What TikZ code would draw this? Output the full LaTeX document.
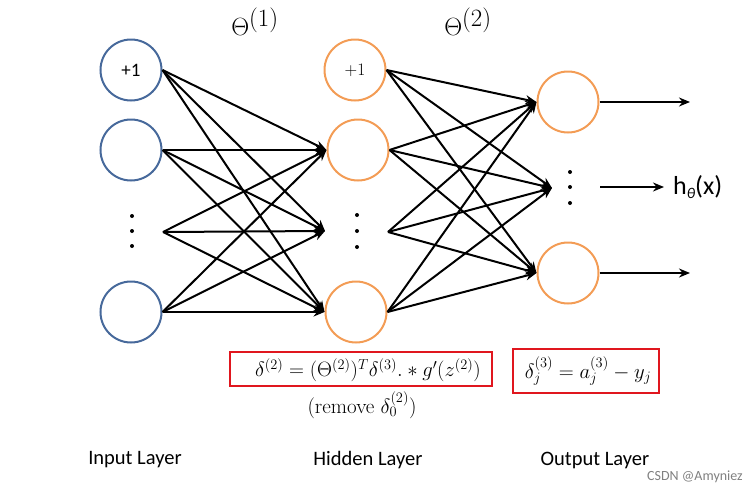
\documentclass[tikz,border=0pt]{standalone}
\usepackage{fontspec}
\newfontfamily\calfont{Carlito}
\usetikzlibrary{arrows.meta}
\definecolor{inblue}{HTML}{47699B}
\definecolor{orng}{HTML}{F39C55}
\definecolor{boxred}{HTML}{E0161E}
\begin{document}
\begin{tikzpicture}[x=1pt,y=-1pt,
  neuronin/.style={circle,draw=inblue,line width=2pt,minimum size=61pt,inner sep=0pt},
  neuronout/.style={circle,draw=orng,line width=2pt,minimum size=61pt,inner sep=0pt},
  conn/.style={line width=2pt,-{Stealth[length=11pt,width=9pt]}},
  redbox/.style={draw=boxred,line width=2.8pt,inner sep=0pt},
  layerlab/.style={font=\calfont\fontsize{20.5}{20}\selectfont},
  fml/.style={font=\fontsize{20.5}{20}\selectfont}]
\useasboundingbox (0,0) rectangle (756,493);
% input layer
\node[neuronin,font=\calfont\fontsize{19}{19}\selectfont] (i0) at (131,70) {+1};
\node[neuronin] (i1) at (131,150) {};
\node[neuronin] (i3) at (131,312) {};
\foreach \yy in {216,231,246} \fill (132,\yy) circle (2pt);
\coordinate (idot) at (163,232);
% hidden layer
\node[neuronout,font=\fontsize{17.5}{17.5}\selectfont] (h0) at (355,70) {+1};
\node[neuronout] (h1) at (358,150) {};
\node[neuronout] (h3) at (356,312) {};
\foreach \yy in {215,231,247} \fill (357,\yy) circle (2pt);
\coordinate (hdotin) at (325,231);
\coordinate (hdotout) at (388,232);
% output layer
\node[neuronout] (o1) at (568,102) {};
\node[neuronout] (o3) at (568,273) {};
\foreach \yy in {172,187,203} \fill (570,\yy) circle (2pt);
\coordinate (odot) at (552,188);
\coordinate (odotout) at (600,187);
% connections
\foreach \s in {i0.east,i1.east,idot,i3.east}
  \foreach \t in {h1.west,hdotin,h3.west}
    \draw[conn] (\s) -- (\t);
\foreach \s in {h0.east,h1.east,hdotout,h3.east}
  \foreach \t in {o1.west,odot,o3.west}
    \draw[conn] (\s) -- (\t);
% outputs
\coordinate (y1) at (690,102);
\coordinate (y3) at (690,273);
\node[font=\calfont\fontsize{26}{26}\selectfont,inner sep=0pt,anchor=west] (hx) at (673,187) {h\raisebox{-0.35ex}{\fontsize{15}{15}\selectfont\itshape θ}(x)};
\draw[conn] (o1.east) -- (y1);
\draw[conn] (odotout) -- ([xshift=-9pt]hx.west);
\draw[conn] (o3.east) -- (y3);
% theta labels
\node[font=\fontsize{36}{36}\selectfont] (t1) at (255,22) {$\Theta^{(1)}$};
\node[font=\fontsize{36}{36}\selectfont] (t2) at (468,22) {$\Theta^{(2)}$};
% formulas
\node[redbox,minimum width=262pt,minimum height=34pt] (f1) at (361,369) {};
\node[fml] (f1t) at (368,370) {$\delta^{(2)} = (\Theta^{(2)})^T\delta^{(3)} .* g'(z^{(2)})$};
\node[redbox,minimum width=146pt,minimum height=44pt] (f2) at (586,371) {};
\node[fml,font=\fontsize{22}{22}\selectfont] (f2t) at (588,371) {$\delta_j^{(3)} = a_j^{(3)} - y_j$};
\node[font=\fontsize{21}{21}\selectfont] (rm) at (362,405) {(remove $\delta_0^{(2)}$)};
% layer labels
\node[layerlab] (l1) at (135,460) {Input Layer};
\node[layerlab] (l2) at (368,460) {Hidden Layer};
\node[layerlab] (l3) at (595,460) {Output Layer};
\node[font=\calfont\fontsize{14}{14}\selectfont,text=gray] (wm) at (695,477) {CSDN @Amyniez};
\end{tikzpicture}
\end{document}
